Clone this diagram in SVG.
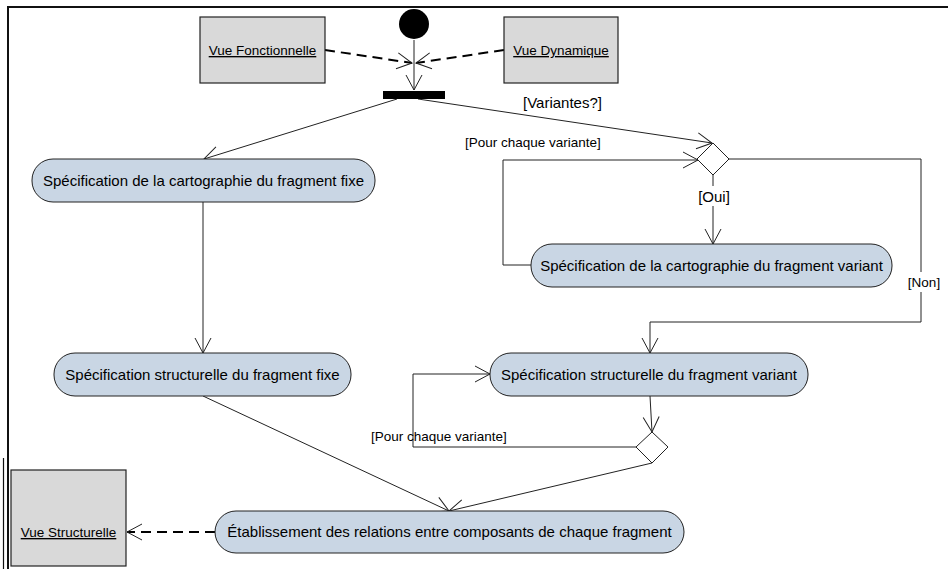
<svg xmlns="http://www.w3.org/2000/svg" width="948" height="569" viewBox="0 0 948 569">
<style>
.act{fill:#c9d6e4;stroke:#222;stroke-width:1}
.obj{fill:#d9d9d9;stroke:#222;stroke-width:1.2}
.t{font-family:"Liberation Sans",Arial,sans-serif;font-size:15px;fill:#000}
.s{font-family:"Liberation Sans",Arial,sans-serif;font-size:13.5px;fill:#000}
.u{text-decoration:underline}
.c{fill:none;stroke:#222;stroke-width:1}
.d{fill:none;stroke:#000;stroke-width:2;stroke-dasharray:10 6}
</style>
<defs>
<marker id="a" viewBox="-16 -9 17 18" refX="0" refY="0" markerWidth="17" markerHeight="18" markerUnits="userSpaceOnUse" orient="auto" overflow="visible">
<path d="M-15,-8 L0,0 L-15,8" fill="none" stroke="#222" stroke-width="1"/>
</marker>
</defs>
<rect width="948" height="569" fill="#fff"/>
<g id="frame">
<path d="M8,569 L8,7 L948,7" fill="none" stroke="#111" stroke-width="2"/>
<path d="M3.5,458 L3.5,569" fill="none" stroke="#111" stroke-width="1.2"/>
</g>
<g id="connectors">
<path class="c" d="M414,40 L414,90" marker-end="url(#a)"/>
<path class="c" d="M397,99 L204,159" marker-end="url(#a)"/>
<path class="c" d="M418,99 L712,143" marker-end="url(#a)"/>
<path class="d" d="M325,50 L412,63" marker-end="url(#a)"/>
<path class="d" d="M504,50 L416,63" marker-end="url(#a)"/>
<path class="c" d="M203,202 L203,353" marker-end="url(#a)"/>
<path class="c" d="M713,175 L713,244" marker-end="url(#a)"/>
<path class="c" d="M531,265 L503,265 L503,160 L698,160" marker-end="url(#a)"/>
<path class="c" d="M729,159 L921,159 L921,322 L650,322 L650,353" marker-end="url(#a)"/>
<path class="c" d="M650,396 L652,432" marker-end="url(#a)"/>
<path class="c" d="M637,447 L413,447 L413,374 L490,374" marker-end="url(#a)"/>
<path class="c" d="M203,396 L449,511" marker-end="url(#a)"/>
<path class="c" d="M652,463 L449,511" marker-end="url(#a)"/>
<path class="d" d="M215,532 L127,532" marker-end="url(#a)"/>
<text class="t" x="523" y="108">[Variantes?]</text>
<text class="s" x="465" y="147">[Pour chaque variante]</text>
<rect x="697" y="186" width="34" height="20" fill="#fff"/>
<text class="t" x="714" y="202" text-anchor="middle">[Oui]</text>
<rect x="907" y="272" width="34" height="20" fill="#fff"/>
<text class="s" x="924" y="287" text-anchor="middle">[Non]</text>
<text class="s" x="371" y="441">[Pour chaque variante]</text>
</g>
<g id="initial"><circle cx="414" cy="24" r="15" fill="#000"/></g>
<g id="fork"><rect x="383" y="91" width="62" height="8" fill="#000"/></g>
<g id="vue-fonctionnelle">
<rect class="obj" x="200" y="17" width="125" height="66"/>
<text class="s u" x="262.5" y="55" text-anchor="middle">Vue Fonctionnelle</text>
</g>
<g id="vue-dynamique">
<rect class="obj" x="504" y="17" width="114" height="66"/>
<text class="s u" x="561" y="55" text-anchor="middle">Vue Dynamique</text>
</g>
<g id="act1">
<rect class="act" x="32" y="159" width="343" height="43" rx="21" ry="21"/>
<text class="t" x="203.5" y="186" text-anchor="middle">Spécification de la cartographie du fragment fixe</text>
</g>
<g id="decision1">
<path d="M713,143 L729,159 L713,175 L697,159 Z" fill="#fff" stroke="#222" stroke-width="1"/>
</g>
<g id="act3">
<rect class="act" x="531" y="244" width="361" height="43" rx="21" ry="21"/>
<text class="t" x="711.5" y="271" text-anchor="middle">Spécification de la cartographie du fragment variant</text>
</g>
<g id="act2">
<rect class="act" x="54" y="353" width="297" height="43" rx="21" ry="21"/>
<text class="t" x="202.5" y="380" text-anchor="middle">Spécification structurelle du fragment fixe</text>
</g>
<g id="act4">
<rect class="act" x="490" y="353" width="318" height="43" rx="21" ry="21"/>
<text class="t" x="649" y="380" text-anchor="middle">Spécification structurelle du fragment variant</text>
</g>
<g id="decision2">
<path d="M652,432 L668,447 L652,463 L636,447 Z" fill="#fff" stroke="#222" stroke-width="1"/>
</g>
<g id="act5">
<rect class="act" x="215" y="511" width="469" height="42" rx="21" ry="21"/>
<text class="t" x="449.5" y="537" text-anchor="middle">Établissement des relations entre composants de chaque fragment</text>
</g>
<g id="vue-structurelle">
<rect class="obj" x="11" y="470" width="115" height="96"/>
<text class="s u" x="68.5" y="537" text-anchor="middle">Vue Structurelle</text>
</g>
</svg>
